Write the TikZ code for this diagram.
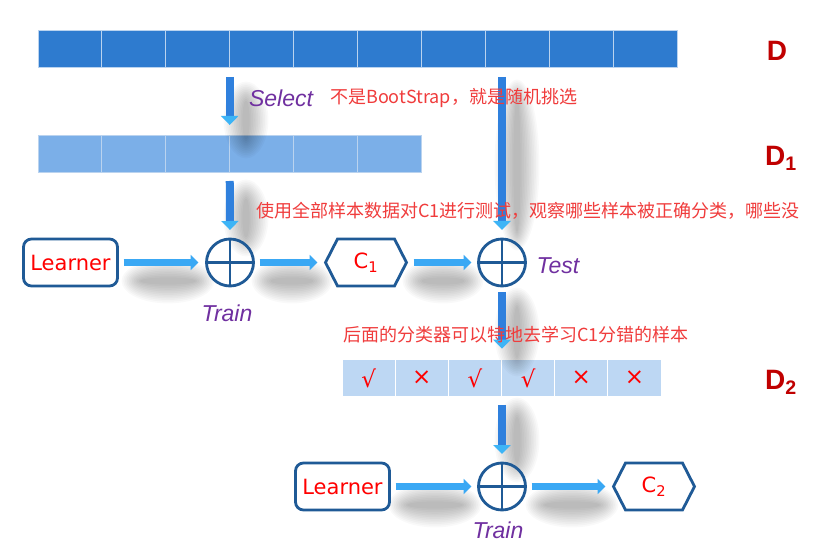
\documentclass[tikz,border=0pt]{standalone}
\usepackage{fontspec}
\setmainfont{Liberation Sans}
\newfontfamily\cjk{Noto Sans CJK SC}
\newfontfamily\dvs{DejaVu Sans}
\usetikzlibrary{arrows.meta}
\definecolor{barDark}{RGB}{46,123,207}
\definecolor{barMid}{RGB}{123,175,232}
\definecolor{barLight}{RGB}{189,215,243}
\definecolor{sepD}{RGB}{186,211,239}
\definecolor{navy}{RGB}{31,90,150}
\definecolor{redtxt}{RGB}{240,60,60}
\definecolor{purp}{RGB}{112,48,160}
\definecolor{dred}{RGB}{192,0,0}
\definecolor{harrowc}{RGB}{58,168,244}
\definecolor{vshaft}{RGB}{47,128,221}
\definecolor{vhead}{RGB}{61,180,246}
\newcommand\softsh[4]{%
  \foreach \k in {1,...,12}{%
    \fill[black, opacity=0.024] (#1,#2) ellipse [x radius={#3+\k*1.7}, y radius={#4+\k*1.7}];
  }}
\newcommand\hexpath[1]{%
  \draw[navy, line width=2.8pt, line join=miter]
    (#1.west) -- ([xshift=12pt]#1.north west) -- ([xshift=-12pt]#1.north east)
    -- (#1.east) -- ([xshift=-12pt]#1.south east) -- ([xshift=12pt]#1.south west) -- cycle;}
\begin{document}
\begin{tikzpicture}[x=1pt,y=-1pt,
  cellA/.style={rectangle, minimum width=63.9pt, minimum height=37pt, fill=barDark, draw=sepD, line width=0.9pt, inner sep=0, outer sep=0},
  cellB/.style={cellA, fill=barMid},
  cellC/.style={rectangle, minimum width=53.17pt, minimum height=36.5pt, fill=barLight, draw=white, line width=0.9pt, inner sep=0, outer sep=0, text=red, font=\dvs\fontsize{23pt}{24pt}\selectfont},
  learner/.style={rectangle, rounded corners=8pt, draw=navy, line width=2.8pt, minimum width=94pt, minimum height=47pt, inner sep=0, outer sep=0, text=red, font=\dvs\fontsize{21pt}{24pt}\selectfont},
  circplus/.style={circle, draw=navy, line width=2.8pt, minimum size=47pt, inner sep=0, outer sep=0,
    path picture={\draw[navy, line width=2.8pt] (path picture bounding box.north) -- (path picture bounding box.south) (path picture bounding box.west) -- (path picture bounding box.east);}},
  hexnode/.style={rectangle, minimum width=81pt, minimum height=47pt, inner sep=0, outer sep=0, text=red, font=\dvs\fontsize{21pt}{24pt}\selectfont},
  harrow/.style={harrowc, line width=7pt, -{Triangle[width=15pt,length=8pt]}},
  varrow/.style={vshaft, line width=8pt, -{Triangle[width=17pt,length=9pt,color=vhead]}},
  itlab/.style={text=purp, font=\itshape\fontsize{23pt}{26pt}\selectfont, inner sep=0},
  note/.style={text=redtxt, font=\cjk\fontsize{18pt}{20pt}\selectfont, inner sep=0, anchor=west},
  dlabel/.style={text=dred, font=\bfseries\fontsize{28pt}{30pt}\selectfont, inner sep=0}
]
\useasboundingbox (0,0) rectangle (839,556);
\fill[white] (0,0) rectangle (839,556);

% bars
\foreach \i in {0,...,9} \node[cellA] (d\i) at ({38+63.9*\i+31.95},48.5) {};
\foreach \i in {0,...,5} \node[cellB] (e\i) at ({38+63.9*\i+31.95},153.5) {};
\foreach \i/\s in {0/√,1/×,2/√,3/√,4/×,5/×} \node[cellC] (f\i) at ({342+53.17*\i+26.58},378) {\s};

% shadows
\softsh{168}{281}{26}{2}
\softsh{292}{281}{20}{2}
\softsh{443}{281}{20}{2}
\softsh{435}{505}{26}{2}
\softsh{572}{505}{26}{2}
\softsh{246}{120}{2}{18}
\softsh{246}{218}{2}{18}
\softsh{517}{165}{2}{65}
\softsh{517}{332}{2}{24}
\softsh{517}{440}{2}{22}

% nodes row 2
\node[learner] (l1) at (70.5,262.5) {Learner};
\node[circplus] (t1) at (230,262.5) {};
\node[hexnode] (c1) at (366,262.5) {C\textsubscript{1}};
\hexpath{c1}
\node[circplus] (t2) at (502,262.5) {};

% nodes row 3
\node[learner] (l2) at (342.5,486.5) {Learner};
\node[circplus] (t3) at (502,486.5) {};
\node[hexnode] (c2) at (654,486.5) {C\textsubscript{2}};
\hexpath{c2}

% vertical arrows
\draw[varrow, shorten <=10pt, shorten >=10pt] (d3.south west) -- (e3.north west);
\draw[varrow, shorten <=9pt, shorten >=9pt] (e3.south west) -- (t1.north);
\draw[varrow, shorten <=10pt, shorten >=9pt] (t2 |- d7.south) -- (t2.north);
\draw[varrow, shorten <=6pt, shorten >=11pt] (t2.south) -- (t2 |- f3.north);
\draw[varrow, shorten <=9pt, shorten >=9pt] (t3 |- f3.south) -- (t3.north);

% horizontal arrows
\draw[harrow, shorten <=6pt, shorten >=8pt] (l1.east) -- (t1.west);
\draw[harrow, shorten <=6pt, shorten >=8pt] (t1.east) -- (c1.west);
\draw[harrow, shorten <=7pt, shorten >=7pt] (c1.east) -- (t2.west);
\draw[harrow, shorten <=6pt, shorten >=7pt] (l2.east) -- (t3.west);
\draw[harrow, shorten <=6pt, shorten >=8pt] (t3.east) -- (c2.west);

% labels
\node[itlab] (sel) at (281,98) {Select};
\node[itlab] (tr1) at (227,313) {Train};
\node[itlab] (tst) at (558,266) {Test};
\node[itlab] (tr2) at (498,530) {Train};
\node[note] (n1) at (330,98) {不是BootStrap，就是随机挑选};
\node[note] (n2) at (256,211) {使用全部样本数据对C1进行测试，观察哪些样本被正确分类，哪些没};
\node[note] (n3) at (343,335) {后面的分类器可以特地去学习C1分错的样本};
\node[dlabel] (lD) at (777,51) {D};
\node[dlabel] (lD1) at (781,158) {D\textsubscript{1}};
\node[dlabel] (lD2) at (781,382) {D\textsubscript{2}};
\end{tikzpicture}
\end{document}
